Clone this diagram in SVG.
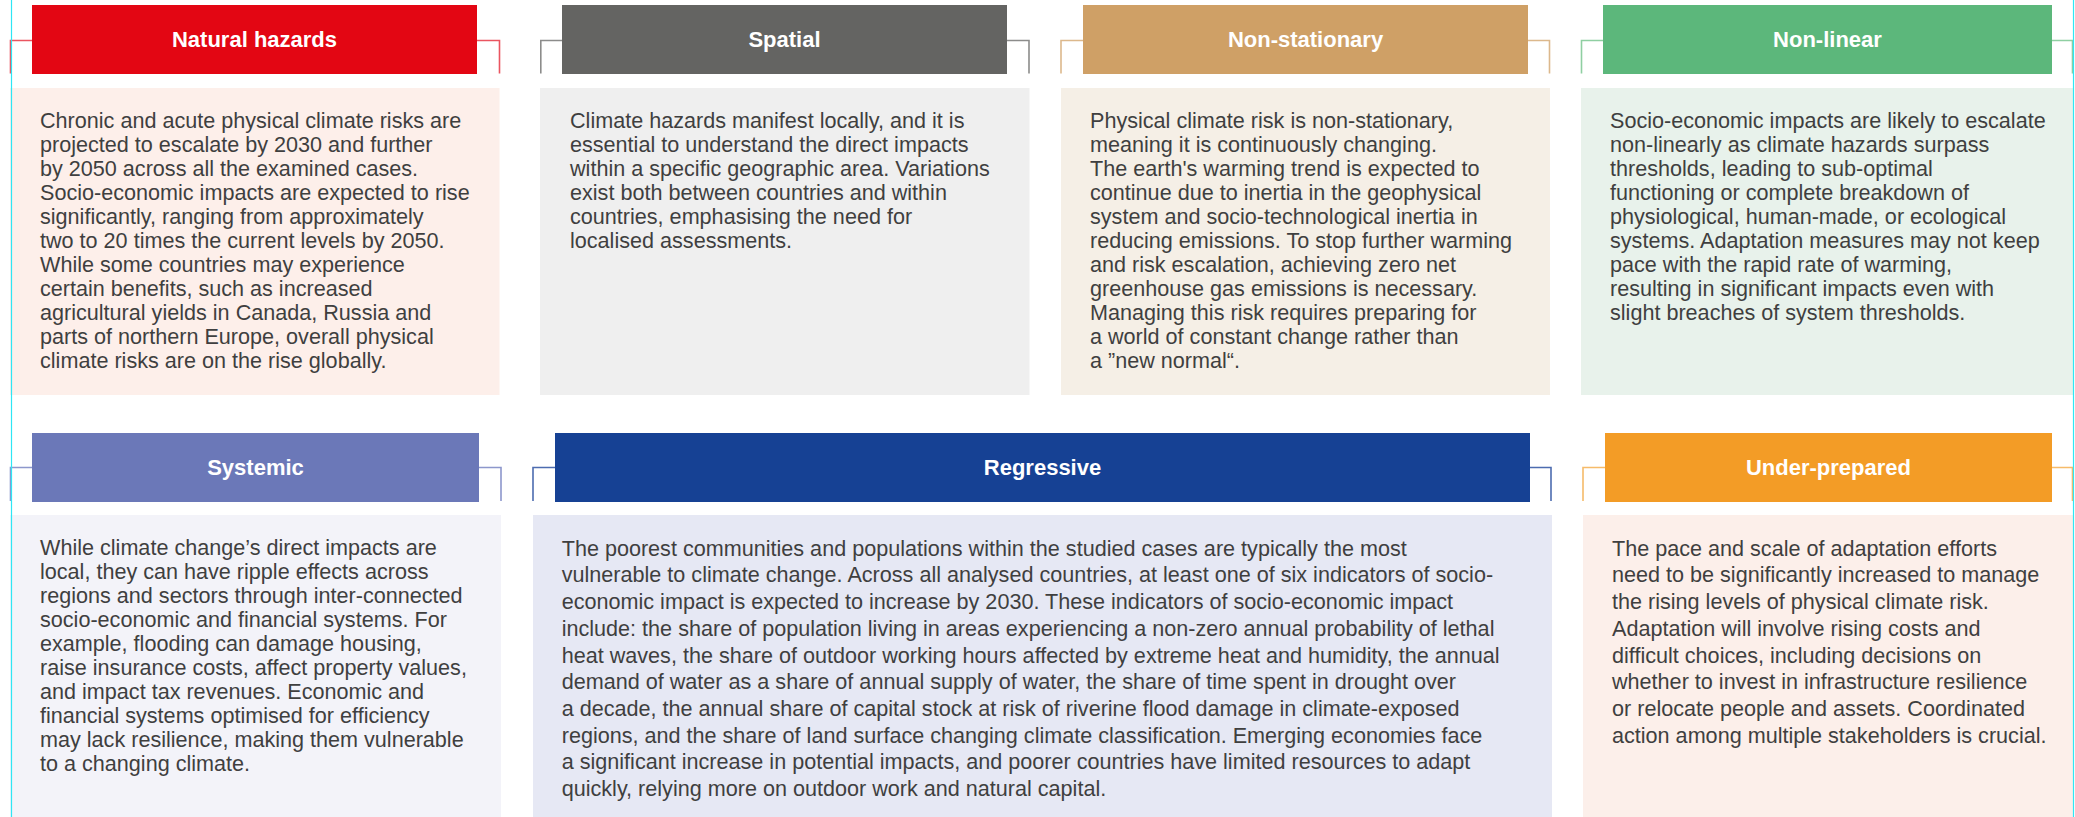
<svg xmlns="http://www.w3.org/2000/svg" width="2075" height="817" viewBox="0 0 2075 817">
<style>
.bg{fill:#ffffff}
.hd{font-family:"Liberation Sans",Arial,sans-serif;font-weight:bold;font-size:22px;fill:#ffffff;text-anchor:middle}
.tx{font-family:"Liberation Sans",Arial,sans-serif;font-size:21.6px;fill:#3f3f3f}
.br{fill:none;stroke-width:1.6}
.edge{stroke:#2ee6f5;stroke-width:1.2}
</style>
<rect class="bg" x="0" y="0" width="2075" height="817"/>

<g id="natural-hazards">
<path class="br" stroke="#ea5560" d="M10.5,73.5 V40.5 H32 M477,40.5 H499.5 V73.5"/>
<rect x="32" y="5" width="445" height="69" fill="#e30613"/>
<text class="hd" x="254.5" y="46.5">Natural hazards</text>
<rect x="10" y="88" width="489.5" height="307" fill="#fdefea"/>
<text class="tx" x="40" y="128.3">
<tspan x="40" dy="0">Chronic and acute physical climate risks are</tspan>
<tspan x="40" dy="24">projected to escalate by 2030 and further</tspan>
<tspan x="40" dy="24">by 2050 across all the examined cases.</tspan>
<tspan x="40" dy="24">Socio-economic impacts are expected to rise</tspan>
<tspan x="40" dy="24">significantly, ranging from approximately</tspan>
<tspan x="40" dy="24">two to 20 times the current levels by 2050.</tspan>
<tspan x="40" dy="24">While some countries may experience</tspan>
<tspan x="40" dy="24">certain benefits, such as increased</tspan>
<tspan x="40" dy="24">agricultural yields in Canada, Russia and</tspan>
<tspan x="40" dy="24">parts of northern Europe, overall physical</tspan>
<tspan x="40" dy="24">climate risks are on the rise globally.</tspan>
</text>
</g>

<g id="spatial">
<path class="br" stroke="#8c8c8b" d="M540.8,73.5 V40.5 H562 M1007,40.5 H1029 V73.5"/>
<rect x="562" y="5" width="445" height="69" fill="#646462"/>
<text class="hd" x="784.5" y="46.5">Spatial</text>
<rect x="540" y="88" width="489.5" height="307" fill="#efefef"/>
<text class="tx" x="570" y="128.3">
<tspan x="570" dy="0">Climate hazards manifest locally, and it is</tspan>
<tspan x="570" dy="24">essential to understand the direct impacts</tspan>
<tspan x="570" dy="24">within a specific geographic area. Variations</tspan>
<tspan x="570" dy="24">exist both between countries and within</tspan>
<tspan x="570" dy="24">countries, emphasising the need for</tspan>
<tspan x="570" dy="24">localised assessments.</tspan>
</text>
</g>

<g id="non-stationary">
<path class="br" stroke="#dcb88c" d="M1061,73.5 V40.5 H1083 M1528,40.5 H1549.5 V73.5"/>
<rect x="1083" y="5" width="445" height="69" fill="#cfa066"/>
<text class="hd" x="1305.5" y="46.5">Non-stationary</text>
<rect x="1061" y="88" width="489" height="307" fill="#f5efe6"/>
<text class="tx" x="1090" y="128.3">
<tspan x="1090" dy="0">Physical climate risk is non-stationary,</tspan>
<tspan x="1090" dy="24">meaning it is continuously changing.</tspan>
<tspan x="1090" dy="24">The earth's warming trend is expected to</tspan>
<tspan x="1090" dy="24">continue due to inertia in the geophysical</tspan>
<tspan x="1090" dy="24">system and socio-technological inertia in</tspan>
<tspan x="1090" dy="24">reducing emissions. To stop further warming</tspan>
<tspan x="1090" dy="24">and risk escalation, achieving zero net</tspan>
<tspan x="1090" dy="24">greenhouse gas emissions is necessary.</tspan>
<tspan x="1090" dy="24">Managing this risk requires preparing for</tspan>
<tspan x="1090" dy="24">a world of constant change rather than</tspan>
<tspan x="1090" dy="24">a ”new normal“.</tspan>
</text>
</g>

<g id="non-linear">
<path class="br" stroke="#8fcfa2" d="M1581.5,73.5 V40.5 H1603 M2052,40.5 H2072.5 V73.5"/>
<rect x="1603" y="5" width="449" height="69" fill="#5cb77b"/>
<text class="hd" x="1827.5" y="46.5">Non-linear</text>
<rect x="1581" y="88" width="492" height="307" fill="#e8f2eb"/>
<text class="tx" x="1610" y="128.3">
<tspan x="1610" dy="0">Socio-economic impacts are likely to escalate</tspan>
<tspan x="1610" dy="24">non-linearly as climate hazards surpass</tspan>
<tspan x="1610" dy="24">thresholds, leading to sub-optimal</tspan>
<tspan x="1610" dy="24">functioning or complete breakdown of</tspan>
<tspan x="1610" dy="24">physiological, human-made, or ecological</tspan>
<tspan x="1610" dy="24">systems. Adaptation measures may not keep</tspan>
<tspan x="1610" dy="24">pace with the rapid rate of warming,</tspan>
<tspan x="1610" dy="24">resulting in significant impacts even with</tspan>
<tspan x="1610" dy="24">slight breaches of system thresholds.</tspan>
</text>
</g>

<g id="systemic">
<path class="br" stroke="#8d97cc" d="M10.5,501 V467.5 H32 M479,467.5 H501 V501"/>
<rect x="32" y="433" width="447" height="69" fill="#6b78b8"/>
<text class="hd" x="255.5" y="474.5">Systemic</text>
<rect x="10" y="515" width="491" height="302" fill="#f3f3f9"/>
<text class="tx" x="40" y="555">
<tspan x="40" dy="0">While climate change’s direct impacts are</tspan>
<tspan x="40" dy="24">local, they can have ripple effects across</tspan>
<tspan x="40" dy="24">regions and sectors through inter-connected</tspan>
<tspan x="40" dy="24">socio-economic and financial systems. For</tspan>
<tspan x="40" dy="24">example, flooding can damage housing,</tspan>
<tspan x="40" dy="24">raise insurance costs, affect property values,</tspan>
<tspan x="40" dy="24">and impact tax revenues. Economic and</tspan>
<tspan x="40" dy="24">financial systems optimised for efficiency</tspan>
<tspan x="40" dy="24">may lack resilience, making them vulnerable</tspan>
<tspan x="40" dy="24">to a changing climate.</tspan>
</text>
</g>

<g id="regressive">
<path class="br" stroke="#4d6cb0" d="M533,501 V467.5 H555 M1530,467.5 H1551 V501"/>
<rect x="555" y="433" width="975" height="69" fill="#164194"/>
<text class="hd" x="1042.5" y="474.5">Regressive</text>
<rect x="533" y="515" width="1019" height="302" fill="#e6e8f4"/>
<text class="tx" x="561.7" y="555.7">
<tspan x="561.7" dy="0">The poorest communities and populations within the studied cases are typically the most</tspan>
<tspan x="561.7" dy="26.7">vulnerable to climate change. Across all analysed countries, at least one of six indicators of socio-</tspan>
<tspan x="561.7" dy="26.7">economic impact is expected to increase by 2030. These indicators of socio-economic impact</tspan>
<tspan x="561.7" dy="26.7">include: the share of population living in areas experiencing a non-zero annual probability of lethal</tspan>
<tspan x="561.7" dy="26.7">heat waves, the share of outdoor working hours affected by extreme heat and humidity, the annual</tspan>
<tspan x="561.7" dy="26.7">demand of water as a share of annual supply of water, the share of time spent in drought over</tspan>
<tspan x="561.7" dy="26.7">a decade, the annual share of capital stock at risk of riverine flood damage in climate-exposed</tspan>
<tspan x="561.7" dy="26.7">regions, and the share of land surface changing climate classification. Emerging economies face</tspan>
<tspan x="561.7" dy="26.7">a significant increase in potential impacts, and poorer countries have limited resources to adapt</tspan>
<tspan x="561.7" dy="26.7">quickly, relying more on outdoor work and natural capital.</tspan>
</text>
</g>

<g id="under-prepared">
<path class="br" stroke="#f6bb6a" d="M1583,501 V467.5 H1605 M2052,467.5 H2072.5 V501"/>
<rect x="1605" y="433" width="447" height="69" fill="#f39c26"/>
<text class="hd" x="1828.5" y="474.5">Under-prepared</text>
<rect x="1583" y="515" width="490" height="302" fill="#fcefea"/>
<text class="tx" x="1612" y="555.7">
<tspan x="1612" dy="0">The pace and scale of adaptation efforts</tspan>
<tspan x="1612" dy="26.7">need to be significantly increased to manage</tspan>
<tspan x="1612" dy="26.7">the rising levels of physical climate risk.</tspan>
<tspan x="1612" dy="26.7">Adaptation will involve rising costs and</tspan>
<tspan x="1612" dy="26.7">difficult choices, including decisions on</tspan>
<tspan x="1612" dy="26.7">whether to invest in infrastructure resilience</tspan>
<tspan x="1612" dy="26.7">or relocate people and assets. Coordinated</tspan>
<tspan x="1612" dy="26.7">action among multiple stakeholders is crucial.</tspan>
</text>
</g>

<g id="connectors">
<line class="edge" x1="11.5" y1="0" x2="11.5" y2="817"/>
<line class="edge" x1="2073.5" y1="0" x2="2073.5" y2="817"/>
</g>
</svg>
